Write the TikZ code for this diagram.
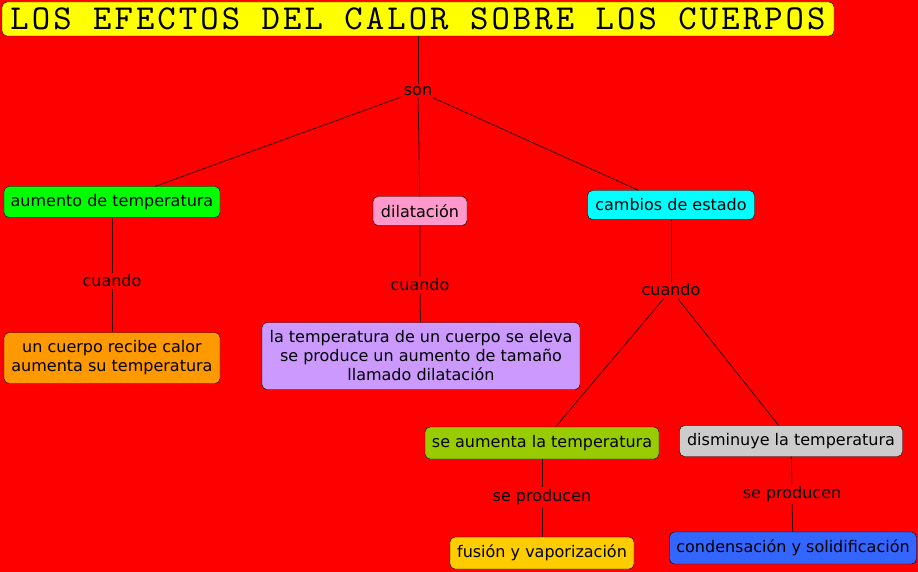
\documentclass[tikz,border=0pt]{standalone}
\usepackage{fontspec}
\setmainfont{DejaVu Sans}
\newfontfamily\titlefont{lmmono10-regular.otf}[LetterSpace=8.8]
\usepackage{xcolor}
\definecolor{bgred}{HTML}{FF0000}
\definecolor{titleyellow}{HTML}{FFFF00}
\definecolor{brightgreen}{HTML}{00FF00}
\definecolor{softpink}{HTML}{FF99CC}
\definecolor{brightcyan}{HTML}{00FFFF}
\definecolor{warmorange}{HTML}{FF9900}
\definecolor{lavender}{HTML}{CC99FF}
\definecolor{olivegreen}{HTML}{99CC00}
\definecolor{silvergray}{HTML}{CCCCCC}
\definecolor{goldyellow}{HTML}{FFCC00}
\definecolor{royalblue}{HTML}{3366FF}
\definecolor{linkdark}{HTML}{330000}

\tikzset{
  concept/.style={draw=black, rounded corners=5pt, inner sep=2pt, align=center,
    font=\fontsize{16}{19}\selectfont},
  linkword/.style={inner sep=2pt, font=\fontsize{16}{19}\selectfont},
  link/.style={draw=linkdark, line width=0.8pt}
}

\begin{document}
\begin{tikzpicture}[x=1pt, y=-1pt]
    \fill[bgred] (0,0) rectangle (918,572);
    \useasboundingbox (0,0) rectangle (918,572);

    % title
    \node[concept, fill=titleyellow, minimum width=832pt, minimum height=34pt,
          inner sep=0pt, font=\titlefont\fontsize{35}{35}\selectfont] (title) at (418,19)
          {LOS EFECTOS DEL CALOR SOBRE LOS CUERPOS};
    \node[linkword] (son) at (418,91) {son};

    % first level
    \node[concept, fill=brightgreen, minimum width=216pt, minimum height=31pt] (aumento) at (112,202) {aumento de temperatura};
    \node[concept, fill=softpink, minimum width=94pt, minimum height=29pt] (dilat) at (420,211) {dilatación};
    \node[concept, fill=brightcyan, minimum width=167pt, minimum height=29pt] (cambios) at (671,205) {cambios de estado};

    \node[linkword] (cuandoA) at (112,281) {cuando};
    \node[linkword] (cuandoB) at (420,285) {cuando};
    \node[linkword] (cuandoC) at (671,290) {cuando};

    % second level
    \node[concept, fill=warmorange, minimum width=216pt, minimum height=51pt] (recibe) at (112,358)
          {un cuerpo recibe calor\\aumenta su temperatura};
    \node[concept, fill=lavender, minimum width=318pt, minimum height=67pt] (eleva) at (421,356)
          {la temperatura de un cuerpo se eleva\\se produce un aumento de tamaño\\llamado dilatación};
    \node[concept, fill=olivegreen, minimum width=234pt, minimum height=32pt] (seaumenta) at (542,443) {se aumenta la temperatura};
    \node[concept, fill=silvergray, minimum width=223pt, minimum height=31pt] (disminuye) at (791,441) {disminuye la temperatura};

    \node[linkword] (producenA) at (542,497) {se producen};
    \node[linkword] (producenB) at (792,494) {se producen};

    % third level
    \node[concept, fill=goldyellow, minimum width=184pt, minimum height=32pt] (fusion) at (542,553) {fusión y vaporización};
    \node[concept, fill=royalblue, minimum width=247pt, minimum height=32pt] (conden) at (793,548) {condensación y solidificación};

    % connectors
    \draw[link] (title) -- (son);
    \draw[link] (son) -- (aumento);
    \draw[link] (son) -- (dilat);
    \draw[link] (son) -- (cambios);
    \draw[link] (aumento) -- (cuandoA) -- (recibe);
    \draw[link] (dilat) -- (cuandoB) -- (eleva);
    \draw[link] (cambios) -- (cuandoC);
    \draw[link] (cuandoC) -- (seaumenta);
    \draw[link] (cuandoC) -- (disminuye);
    \draw[link] (seaumenta) -- (producenA) -- (fusion);
    \draw[link] (disminuye) -- (producenB) -- (conden);
\end{tikzpicture}
\end{document}
